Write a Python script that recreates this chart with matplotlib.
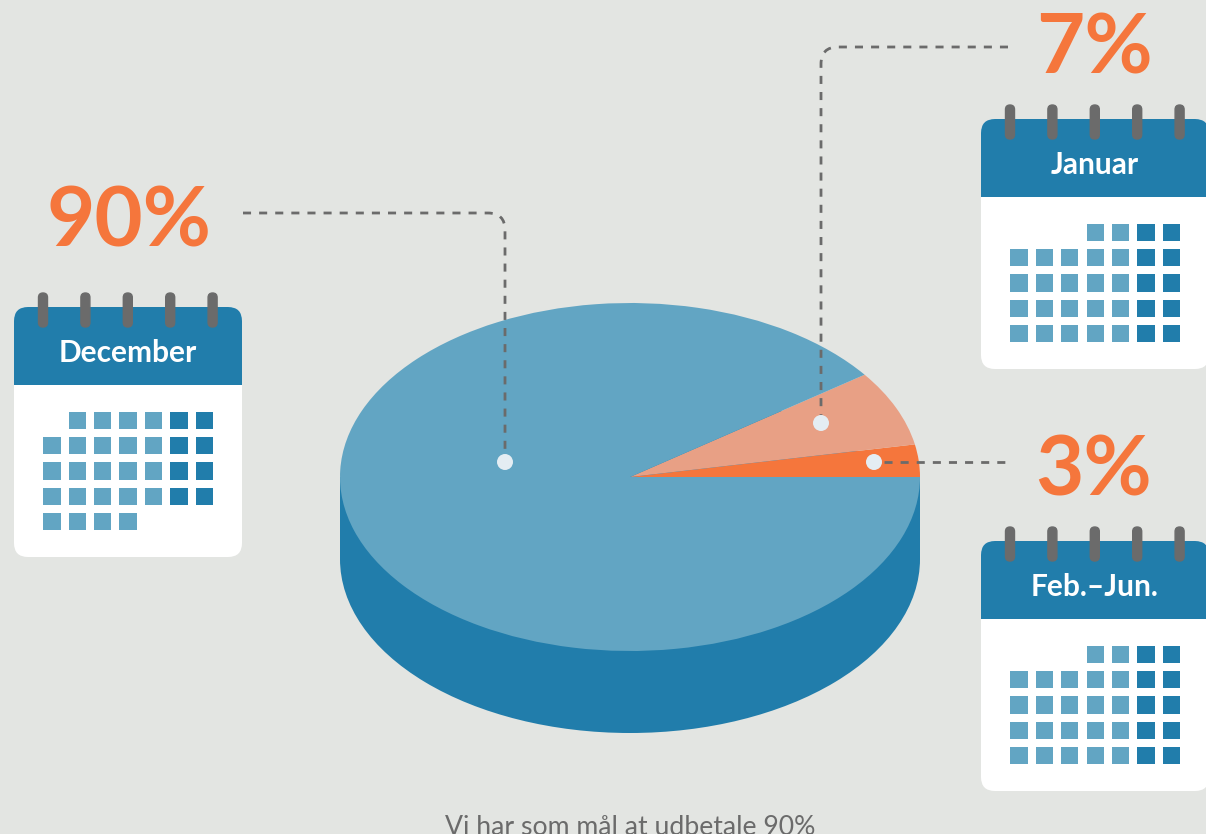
import matplotlib
matplotlib.use("Agg")
import matplotlib.pyplot as plt
from matplotlib.patches import Circle, Ellipse, FancyBboxPatch, PathPatch, Rectangle
from matplotlib.path import Path

# pie shares, counter-clockwise from 3 o'clock
shares = [3, 7, 90]
share_colors = ['#f5763c', '#e8a085', '#62a5c3']

# calendar labels and day layout: (first column, number of days) per week row
month_labels = ['December', 'Januar', 'Feb.–Jun.']
dec_rows = [(1, 6), (0, 7), (0, 7), (0, 7), (0, 4)]
jan_rows = [(3, 4), (0, 7), (0, 7), (0, 7), (0, 7)]
feb_rows = [(3, 4), (0, 7), (0, 7), (0, 7), (0, 7)]

caption = 'Vi har som mål at udbetale 90%'

BG = '#e3e5e2'
DARK = '#217dab'
LIGHT = '#62a5c3'
ORANGE = '#f5763c'
GRAY = '#6b6b6b'
DOT = '#e4edf3'
W, H = 1206, 834

fig = plt.figure(figsize=(W / 100, H / 100), dpi=100, facecolor=BG)
ax = fig.add_axes([0, 0, 1, 1])
ax.set_xlim(0, W)
ax.set_ylim(H, 0)
ax.axis('off')

# pie body
cx, cy, rx, ry, depth = 630, 477, 290, 174, 82
ax.add_patch(Ellipse((cx, cy + depth), 2 * rx, 2 * ry, color=DARK, lw=0))
ax.add_patch(Rectangle((cx - rx, cy), 2 * rx, depth, color=DARK, lw=0))

# pie top, squashed by giving the axes a non-square box
pie_ax = fig.add_axes([(cx - rx) / W, 1 - (cy + ry) / H, 2 * rx / W, 2 * ry / H], zorder=2)
pie_ax.pie(shares, colors=share_colors, startangle=0, counterclock=True, radius=1,
           wedgeprops={'linewidth': 0})
pie_ax.set_aspect('auto')
pie_ax.set_xlim(-1, 1)
pie_ax.set_ylim(-1, 1)
pie_ax.patch.set_alpha(0)

# overlay for leader lines and dots
over = fig.add_axes([0, 0, 1, 1], zorder=3)
over.set_xlim(0, W)
over.set_ylim(H, 0)
over.axis('off')


def leader(points, curved=True):
    if curved:
        codes = [Path.MOVETO, Path.LINETO, Path.CURVE3, Path.CURVE3, Path.LINETO]
    else:
        codes = [Path.MOVETO, Path.LINETO]
    over.add_patch(PathPatch(Path(points, codes), fill=False, ec=GRAY, lw=2,
                             linestyle=(0, (2.9, 2.9)), capstyle='butt'))


leader([(243, 213), (488, 213), (505, 213), (505, 230), (505, 452)])
leader([(1008, 47), (838, 47), (821, 47), (821, 64), (821, 415)])
leader([(884, 462), (1008, 462)], curved=False)
for x, y in [(505, 462), (821, 423), (874, 462)]:
    over.add_patch(Circle((x, y), 8, color=DOT, lw=0))

# big percentages
BIG = dict(color=ORANGE, family='Lato', fontweight='bold', fontsize=60,
           ha='center', va='baseline')
over.text(129, 246, f'{shares[2]}%', **BIG)
over.text(1094, 73, f'{shares[1]}%', **BIG)
over.text(1094, 495, f'{shares[0]}%', **BIG)


def calendar(left, top, label, rows):
    width, height, head = 228, 250, 78
    pad = 14
    over.add_patch(FancyBboxPatch((left + pad, top + pad), width - 2 * pad, height - 2 * pad,
                                  boxstyle=f'round,pad={pad},rounding_size={pad}',
                                  fc='white', ec='none'))
    header = FancyBboxPatch((left + pad, top + pad), width - 2 * pad, height - 2 * pad,
                            boxstyle=f'round,pad={pad},rounding_size={pad}',
                            fc=DARK, ec='none')
    over.add_patch(header)
    header.set_clip_path(Rectangle((left, top), width, head, transform=over.transData))
    # spiral rings
    for i in range(5):
        rx0 = left + 24 + i * 42.4
        over.add_patch(FancyBboxPatch((rx0 + 0.5, top - 14), 9, 34,
                                      boxstyle='round,pad=0,rounding_size=4.5',
                                      fc=GRAY, ec=GRAY, lw=1))
    over.text(left + width / 2, top + 55, label, color='white', family='Lato',
              fontweight='bold', fontsize=21.5, ha='center', va='baseline')
    # day squares
    for r, (start, count) in enumerate(rows):
        for c in range(start, start + count):
            color = DARK if c >= 5 else LIGHT
            over.add_patch(Rectangle((left + 29.3 + c * 25.4, top + 104.7 + r * 25.3), 17.3, 17.3,
                                     fc=color, ec='none'))


calendar(14, 307, month_labels[0], dec_rows)
calendar(981, 119, month_labels[1], jan_rows)
calendar(981, 541, month_labels[2], feb_rows)

over.text(630, 835, caption, color=GRAY, family='Lato', fontsize=19.2,
          ha='center', va='baseline')

fig.savefig('out.png', dpi=100, facecolor=BG)
